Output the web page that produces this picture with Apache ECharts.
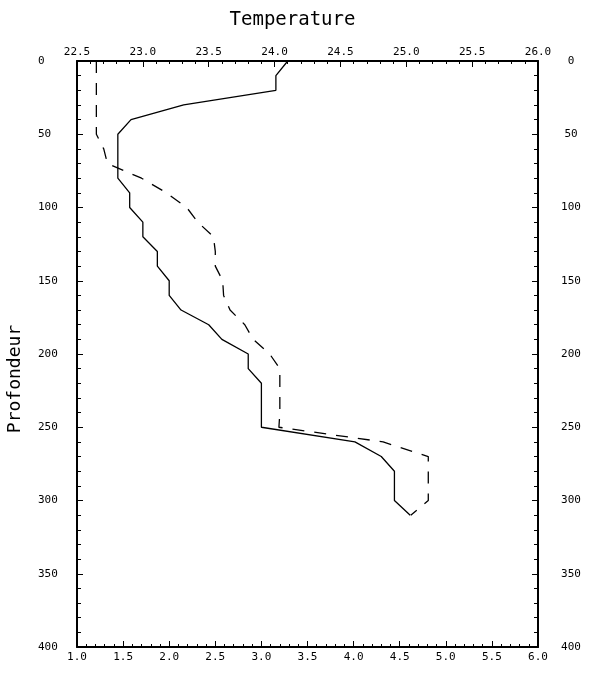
<!DOCTYPE html>
<html>
<head>
<meta charset="utf-8">
<title>Temperature / Profondeur</title>
<script src="https://cdn.jsdelivr.net/npm/echarts@6/dist/echarts.min.js"></script>
<style>
  html, body { margin: 0; padding: 0; background: #fff; }
  #chart { width: 600px; height: 675px; }
</style>
</head>
<body>
<div id="chart"></div>
<script>
// profondeur (m), une mesure tous les 10 m
const depths = [0, 10, 20, 30, 40, 50, 60, 70, 80, 90, 100, 110, 120, 130, 140, 150,
  160, 170, 180, 190, 200, 210, 220, 230, 240, 250, 260, 270, 280, 290, 300, 310];
// courbe pleine, echelle du haut (Temperature)
const solidTemp = [24.10, 24.01, 24.01, 23.31, 22.91, 22.81, 22.81, 22.81, 22.81, 22.90, 22.90,
  23.00, 23.00, 23.11, 23.11, 23.20, 23.20, 23.29, 23.50, 23.60, 23.80, 23.80, 23.90, 23.90,
  23.90, 23.90, 24.61, 24.81, 24.91, 24.91, 24.91, 25.03];
// courbe tiretee, echelle du bas
const dashedVal = [1.21, 1.21, 1.21, 1.21, 1.21, 1.21, 1.29, 1.33, 1.70, 1.97, 2.19, 2.31,
  2.48, 2.50, 2.50, 2.58, 2.59, 2.66, 2.82, 2.91, 3.09, 3.20, 3.20, 3.20, 3.20, 3.19, 4.32,
  4.81, 4.81, 4.81, 4.81, 4.62];
// graduations
const bottomTicks = { min: 1.0, max: 6.0, step: 0.5 };
const topTicks = { min: 22.5, max: 26.0, step: 0.5 };
const depthTicks = { min: 0, max: 400, step: 50 };

const font = "DejaVu Sans Mono";

function pairs(xs) {
  return depths.map((d, i) => [xs[i], d]);
}

function xAxisCfg(t, pos) {
  return {
    type: "value",
    position: pos,
    min: t.min,
    max: t.max,
    interval: t.step,
    axisLine: { show: true, onZero: false, lineStyle: { color: "#000", width: 2 } },
    axisTick: { show: true, inside: true, length: 6, lineStyle: { color: "#000", width: 1 } },
    minorTick: { show: true, splitNumber: 5, length: 3, lineStyle: { color: "#000", width: 1 } },
    splitLine: { show: false },
    axisLabel: {
      color: "#000",
      fontFamily: font,
      fontSize: 11,
      margin: pos === "top" ? 3 : 5,
      formatter: v => v.toFixed(1)
    }
  };
}

function yAxisCfg(pos) {
  return {
    type: "value",
    position: pos,
    inverse: true,
    min: depthTicks.min,
    max: depthTicks.max,
    interval: depthTicks.step,
    axisLine: { show: true, onZero: false, lineStyle: { color: "#000", width: 2 } },
    axisTick: { show: true, inside: true, length: 6, lineStyle: { color: "#000", width: 1 } },
    minorTick: { show: true, splitNumber: 5, length: 4, lineStyle: { color: "#000", width: 1 } },
    splitLine: { show: false },
    axisLabel: {
      color: "#000",
      fontFamily: font,
      fontSize: 11,
      align: pos === "left" ? "left" : "center",
      margin: pos === "left" ? 39 : 33
    }
  };
}

const chart = echarts.init(document.getElementById("chart"));

const topAxis = xAxisCfg(topTicks, "top");
topAxis.name = "Temperature";
topAxis.nameLocation = "middle";
topAxis.nameGap = 31;
topAxis.nameTextStyle = { color: "#000", fontFamily: font, fontSize: 19, padding: [0, 30, 0, 0] };

const leftAxis = yAxisCfg("left");
leftAxis.name = "Profondeur";
leftAxis.nameLocation = "middle";
leftAxis.nameGap = 53;
leftAxis.nameTextStyle = { color: "#000", fontFamily: font, fontSize: 18, padding: [0, 50, 0, 0] };

chart.setOption({
  backgroundColor: "#fff",
  animation: false,
  grid: { left: 77, right: 62, top: 61, bottom: 28, outerBoundsMode: "none" },
  xAxis: [xAxisCfg(bottomTicks, "bottom"), topAxis],
  yAxis: [leftAxis, yAxisCfg("right")],
  series: [
    {
      name: "Temperature",
      type: "line",
      xAxisIndex: 1,
      yAxisIndex: 0,
      symbol: "none",
      lineStyle: { color: "#000", width: 1.3 },
      data: pairs(solidTemp)
    },
    {
      name: "tirets",
      type: "line",
      xAxisIndex: 0,
      yAxisIndex: 0,
      symbol: "none",
      lineStyle: { color: "#000", width: 1.3, type: [12, 10] },
      data: pairs(dashedVal)
    }
  ]
});
</script>
</body>
</html>
